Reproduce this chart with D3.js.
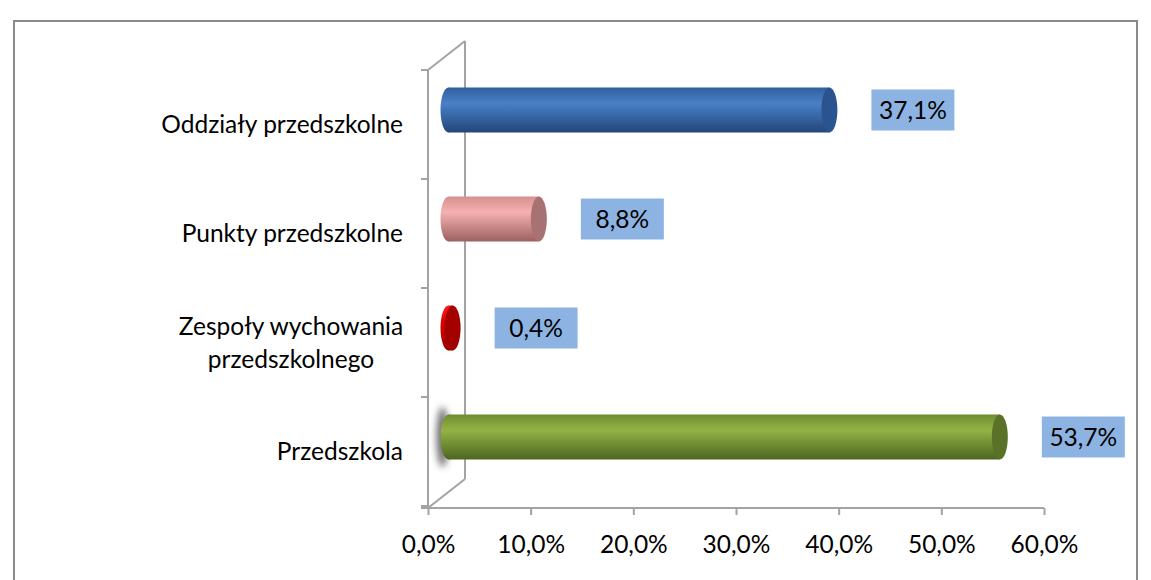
<!DOCTYPE html>
<html>
<head>
<meta charset="utf-8">
<script src="https://cdn.jsdelivr.net/npm/d3@7"></script>
<style>
  body { margin: 0; background: #fff; }
  svg { display: block; font-family: Lato, "Open Sans", sans-serif; }
</style>
</head>
<body>
<div id="chart"></div>
<script>
// data
var categories = ["Oddziały przedszkolne", "Punkty przedszkolne", "Zespoły wychowania przedszkolnego", "Przedszkola"];
var values = [37.1, 8.8, 0.4, 53.7];
var valueLabels = ["37,1%", "8,8%", "0,4%", "53,7%"];
var xTicks = [0, 10, 20, 30, 40, 50, 60];
var categoryLines = [["Oddziały przedszkolne"], ["Punkty przedszkolne"], ["Zespoły wychowania", "przedszkolnego"], ["Przedszkola"]];

var colors = [
    { top: "#2f5f9e", mid: "#4a80c6", bot: "#22467a", cap: "#2a5490" },
    { top: "#d89090", mid: "#f5b0b0", bot: "#9c6060", cap: "#a87272" },
    { top: "#ff1a1a", mid: "#e00000", bot: "#990000", cap: "#a30000" },
    { top: "#6f8d2f", mid: "#93b246", bot: "#4c6620", cap: "#5a7228" }
];

var svgWidth = 1151;
var svgHeight = 580;
var fontSize = "24.5px";

var svg = d3.select("#chart")
    .append("svg")
    .attr("width", svgWidth)
    .attr("height", svgHeight);

var defs = svg.append("defs");
colors.forEach(function (c, i) {
    var g = defs.append("linearGradient")
        .attr("id", "grad" + i)
        .attr("x1", 0).attr("y1", 0).attr("x2", 0).attr("y2", 1);
    g.append("stop").attr("offset", "0%").attr("stop-color", c.top);
    g.append("stop").attr("offset", "35%").attr("stop-color", c.mid);
    g.append("stop").attr("offset", "100%").attr("stop-color", c.bot);
});
defs.append("filter").attr("id", "blur")
    .attr("x", "-100%").attr("y", "-50%").attr("width", "300%").attr("height", "200%")
    .append("feGaussianBlur").attr("stdDeviation", 3.5);

// outer border
svg.append("rect")
    .attr("x", 14).attr("y", 21)
    .attr("width", 1123).attr("height", 570)
    .attr("fill", "none")
    .attr("stroke", "#8a8a8a")
    .attr("stroke-width", 2);

// scales
var x = d3.scaleLinear().domain([0, 60]).range([428, 1044]);
var y = d3.scaleBand().domain(categories).range([70, 506]);
var depth = { dx: 37, dy: -29 };
var barH = 45;
var capRx = 8;

var axisColor = "#a3a3a3";

// back wall and side
var wall = svg.append("g").attr("stroke", axisColor).attr("stroke-width", 2).attr("fill", "none");
wall.append("line").attr("x1", x(0) + depth.dx).attr("y1", 70 + depth.dy).attr("x2", x(0) + depth.dx).attr("y2", 506 + depth.dy + 2);
wall.append("line").attr("x1", x(0)).attr("y1", 70).attr("x2", x(0) + depth.dx).attr("y2", 70 + depth.dy);
wall.append("line").attr("x1", x(0)).attr("y1", 508).attr("x2", x(0) + depth.dx).attr("y2", 508 + depth.dy);

// left axis (front)
var leftG = svg.append("g").attr("transform", "translate(" + x(0) + ",0)");
leftG.append("path")
    .attr("d", "M-7,70H0V508")
    .attr("fill", "none")
    .attr("stroke", axisColor).attr("stroke-width", 2);
categories.forEach(function (c) {
    var t = y(c) + y.bandwidth();
    leftG.append("line").attr("x1", -7).attr("x2", 0).attr("y1", t).attr("y2", t)
        .attr("stroke", axisColor).attr("stroke-width", 2);
});

// bottom axis
var bottomAxis = d3.axisBottom(x)
    .tickValues(xTicks)
    .tickSize(7)
    .tickSizeOuter(0)
    .tickFormat(function (d) { return d.toFixed(1).replace(".", ",") + "%"; });
var bottomG = svg.append("g").attr("transform", "translate(0,508)").call(bottomAxis);
bottomG.select(".domain").attr("stroke", axisColor).attr("stroke-width", 2).attr("d", "M" + (x(0) - 7) + ",0H" + x(60));
bottomG.selectAll(".tick line").attr("stroke", axisColor).attr("stroke-width", 2);
bottomG.selectAll(".tick text")
    .attr("y", 28)
    .attr("font-size", fontSize)
    .attr("font-family", "Lato, sans-serif")
    .attr("fill", "#000");

// category labels
categories.forEach(function (c, i) {
    var lines = categoryLines[i];
    var cy = y(c) + y.bandwidth() / 2;
    var lh = 33;
    var t = svg.append("text")
        .attr("font-size", fontSize)
        .attr("fill", "#000");
    if (lines.length === 1) {
        t.attr("x", 403).attr("y", cy).attr("dy", "0.35em").attr("text-anchor", "end").text(lines[0]);
    } else {
        t.attr("text-anchor", "middle");
        lines.forEach(function (l, k) {
            t.append("tspan").attr("x", 291)
                .attr("y", cy + (k - (lines.length - 1) / 2) * lh)
                .attr("dy", "0.35em")
                .text(l);
        });
    }
});

// shadow behind the bottom bar
var lastCat = categories[3];
svg.append("ellipse")
    .attr("cx", x(0) + depth.dx / 2 - 4)
    .attr("cy", y(lastCat) + y.bandwidth() / 2 + depth.dy / 2)
    .attr("rx", 6).attr("ry", 30)
    .attr("fill", "#555")
    .attr("opacity", 0.85)
    .attr("filter", "url(#blur)");

// cylinders
var bars = svg.selectAll(".bar")
    .data(values)
    .enter()
    .append("g")
    .attr("class", "bar");

bars.each(function (v, i) {
    var g = d3.select(this);
    var x0 = x(0) + depth.dx / 2 + 2;
    var x1 = x(v) + depth.dx / 2 + 2;
    var cy = y(categories[i]) + y.bandwidth() / 2 + depth.dy / 2;
    g.append("ellipse")
        .attr("cx", x0).attr("cy", cy)
        .attr("rx", capRx).attr("ry", barH / 2)
        .attr("fill", "url(#grad" + i + ")");
    g.append("rect")
        .attr("x", x0).attr("y", cy - barH / 2)
        .attr("width", Math.max(0, x1 - x0)).attr("height", barH)
        .attr("fill", "url(#grad" + i + ")");
    g.append("ellipse")
        .attr("cx", x1).attr("cy", cy)
        .attr("rx", capRx).attr("ry", barH / 2)
        .attr("fill", colors[i].cap);
});

// value labels
var boxW = 83, boxH = 41;
values.forEach(function (v, i) {
    var cy = y(categories[i]) + y.bandwidth() / 2 + depth.dy / 2;
    var bx = x(v) + depth.dx / 2 + 2 + capRx + 34;
    svg.append("rect")
        .attr("x", bx).attr("y", cy - boxH / 2)
        .attr("width", boxW).attr("height", boxH)
        .attr("fill", "#8db3e2");
    svg.append("text")
        .attr("x", bx + boxW / 2).attr("y", cy)
        .attr("dy", "0.35em")
        .attr("text-anchor", "middle")
        .attr("font-size", fontSize)
        .attr("fill", "#000")
        .text(valueLabels[i]);
});
</script>
</body>
</html>
